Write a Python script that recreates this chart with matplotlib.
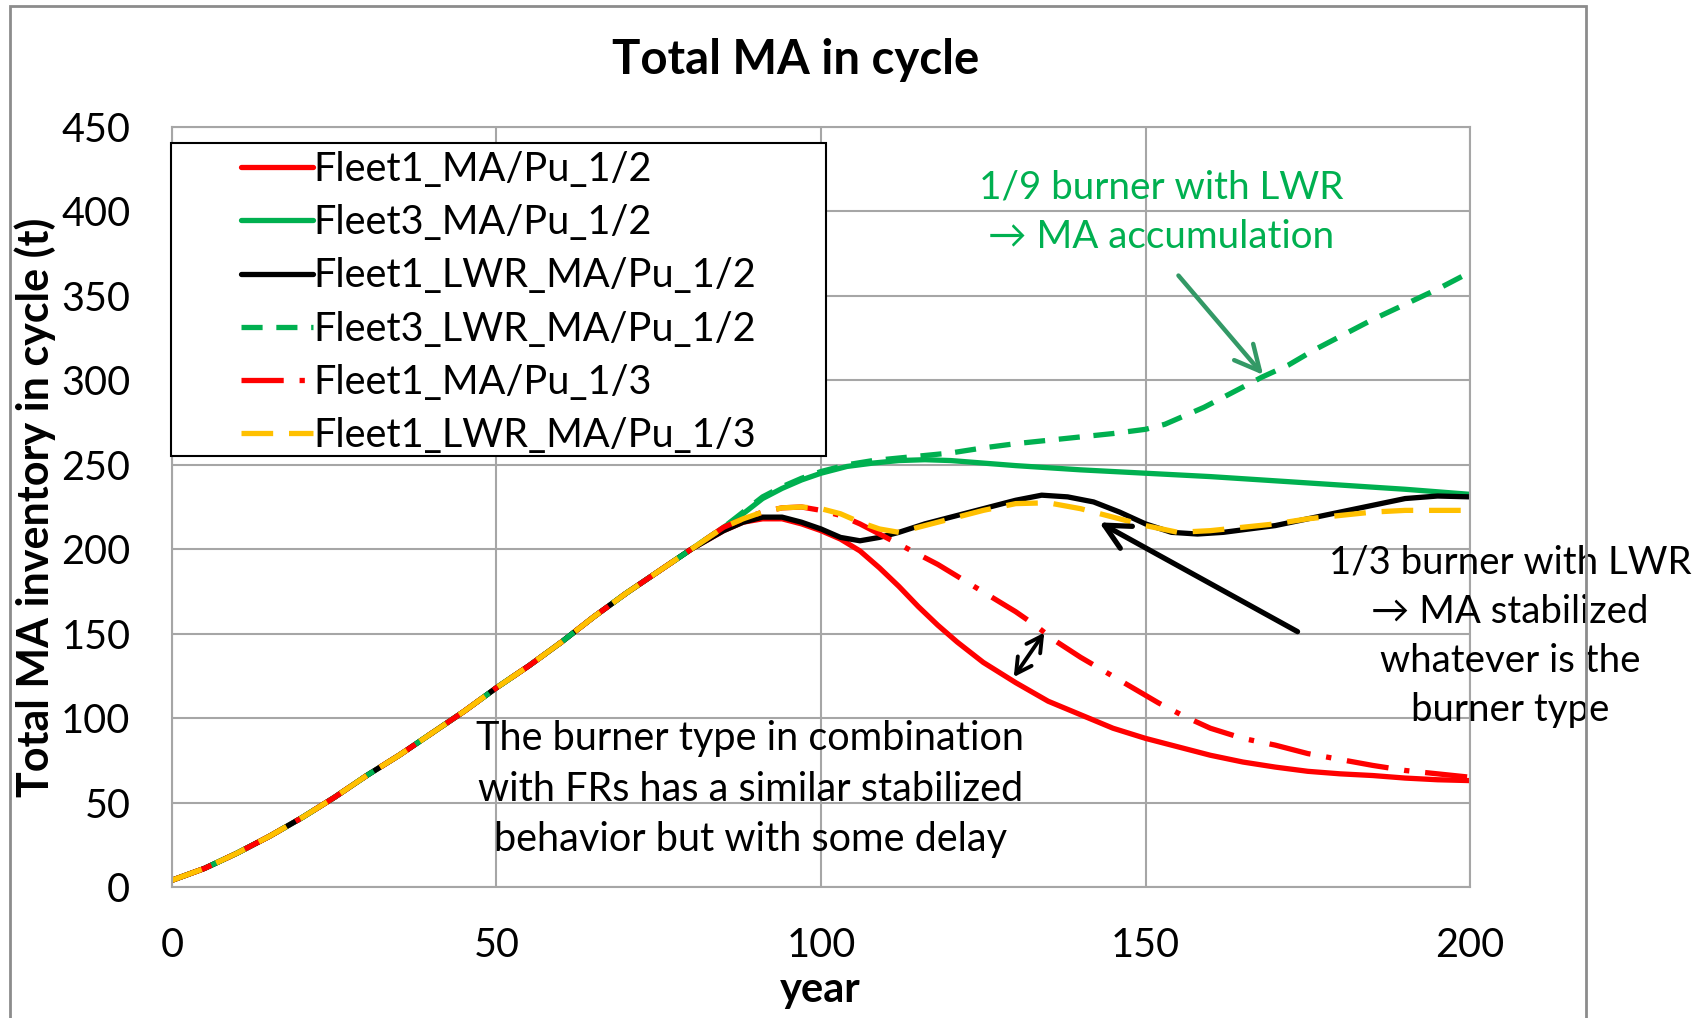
import numpy as np
import matplotlib
matplotlib.use("Agg")
import matplotlib.pyplot as plt
from matplotlib.patches import Rectangle

plt.rcParams['font.family'] = ['Lato', 'DejaVu Sans']

# common part of all scenarios (years 0..80)
base_years = [0, 5, 10, 15, 20, 25, 30, 35, 40, 45, 50, 55, 60, 65, 70, 75, 80]
base_ma = [4, 11, 20, 30, 41, 53, 66, 78, 91, 104, 118, 131, 145, 160, 174, 187, 200]

# Fleet1_MA/Pu_1/2
f1_12_years = [85, 88, 91, 94, 97, 100, 103, 106, 109, 112, 115, 118, 121, 125, 130, 135,
               140, 145, 150, 155, 160, 165, 170, 175, 180, 185, 190, 195, 200]
f1_12_ma = [211, 216, 218, 218, 215, 211, 206, 199, 189, 178, 166, 155, 145, 133, 121, 110,
            102, 94, 88, 83, 78, 74, 71, 68.5, 67, 66, 64.5, 63.5, 63]

# Fleet3_MA/Pu_1/2
f3_12_years = [85, 88, 91, 94, 97, 100, 104, 108, 112, 116, 120, 125, 130, 140, 150, 160,
               170, 180, 190, 200]
f3_12_ma = [213, 221, 230, 236, 241, 245, 249, 251, 252.5, 253, 252.5, 251, 249.5, 247,
            245, 243, 240.5, 238, 235.5, 232.5]

# Fleet1_LWR_MA/Pu_1/2
f1lwr_12_years = [85, 88, 91, 94, 97, 100, 103, 106, 109, 112, 116, 120, 125, 130, 134, 138,
                  142, 146, 150, 154, 158, 162, 166, 170, 175, 180, 185, 190, 195, 200]
f1lwr_12_ma = [211, 216, 219, 219, 216, 212, 207, 205, 207, 210, 215, 219, 224, 229, 232, 231,
               228, 222, 215, 210, 209, 210, 212, 214, 218, 222, 226, 230, 231.5, 231]

# Fleet3_LWR_MA/Pu_1/2
f3lwr_12_years = [85, 88, 91, 94, 97, 100, 104, 108, 112, 116, 120, 125, 130, 135, 140, 145,
                  150, 153, 156, 159, 162, 165, 168, 172, 176, 180, 185, 190, 195, 200]
f3lwr_12_ma = [213, 222, 231, 237, 242, 246, 250, 252.5, 254, 255.5, 257, 260, 262.5, 264.5,
               266.5, 268.5, 271, 274, 279, 284, 290, 296, 302, 309, 318, 326, 336, 345, 354, 364]

# Fleet1_MA/Pu_1/3
f1_13_years = [85, 88, 91, 94, 97, 100, 103, 106, 109, 112, 115, 118, 121, 124, 127, 130, 133,
               136, 140, 144, 148, 152, 156, 160, 165, 170, 175, 180, 185, 190, 195, 200]
f1_13_ma = [213, 218, 222, 224.5, 225, 223, 220, 215, 209, 203, 197, 191, 184, 177, 170, 163,
            155, 146, 136, 127, 118, 109, 101, 94, 88, 84, 79, 75.5, 72, 69, 67, 65]

# Fleet1_LWR_MA/Pu_1/3
f1lwr_13_years = [85, 88, 91, 94, 97, 100, 103, 106, 109, 112, 115, 120, 125, 130, 135, 140,
                  145, 150, 155, 160, 165, 170, 175, 180, 185, 190, 195, 200]
f1lwr_13_ma = [213, 218, 222, 224.5, 225, 224, 221, 216, 212, 210, 213, 218, 223, 227, 227.5,
               224, 219, 214, 210, 211, 213, 215, 218, 220, 222, 223, 223, 223]

series = [
    ("Fleet1_MA/Pu_1/2", f1_12_years, f1_12_ma, "#FF0000", None),
    ("Fleet3_MA/Pu_1/2", f3_12_years, f3_12_ma, "#00B050", None),
    ("Fleet1_LWR_MA/Pu_1/2", f1lwr_12_years, f1lwr_12_ma, "#000000", None),
    ("Fleet3_LWR_MA/Pu_1/2", f3lwr_12_years, f3lwr_12_ma, "#00B050", (4, 2.6)),
    ("Fleet1_MA/Pu_1/3", f1_13_years, f1_13_ma, "#FF0000", (8, 3, 1, 3)),
    ("Fleet1_LWR_MA/Pu_1/3", f1lwr_13_years, f1lwr_13_ma, "#FFC000", (6, 3)),
]

W, H = 1703, 1018
fig = plt.figure(figsize=(W / 100, H / 100), dpi=100)
ax = fig.add_axes([172 / W, 1 - 887 / H, (1470 - 172) / W, (887 - 127) / H])

handles = []
for label, yrs, ma, col, dash in series:
    x = np.array(base_years + yrs)
    y = np.array(base_ma + ma)
    ln, = ax.plot(x, y, color=col, lw=3.8, label=label, solid_capstyle='round')
    if dash is not None:
        ln.set_dashes(dash)
        ln.set_dash_capstyle('butt')
    handles.append(ln)

ax.set_xlim(0, 200)
ax.set_ylim(0, 450)
ax.set_xticks([0, 50, 100, 150, 200])
ax.set_yticks(np.arange(0, 451, 50))
ax.grid(True, color='#A6A6A6', lw=1.5)
ax.set_axisbelow(True)
for s in ax.spines.values():
    s.set_color('#A6A6A6')
    s.set_linewidth(1.5)
ax.tick_params(axis='both', length=0, labelsize=28.5)
ax.tick_params(axis='y', pad=30)
ax.tick_params(axis='x', pad=29)

# outer chart border
fig.patches.append(Rectangle((10 / W, -0.05), (1586 - 10) / W, 1.05 - 6 / H,
                             transform=fig.transFigure, fill=False,
                             edgecolor='#8C8C8C', lw=2, zorder=0))

fig.text(796 / W, 1 - 60 / H, "Total MA in cycle", ha='center', va='center',
         fontsize=34, fontweight='bold')
fig.text(35 / W, 1 - 507 / H, "Total MA inventory in cycle (t)", ha='center', va='center',
         rotation=90, fontsize=31, fontweight='bold')
fig.text(820 / W, 1 - 990 / H, "year", ha='center', va='center',
         fontsize=30, fontweight='bold')

# legend with a plain black frame
fig.patches.append(Rectangle((170.5 / W, 1 - 456 / H), 655 / W, 312.6 / H,
                             transform=fig.transFigure, facecolor='white',
                             edgecolor='black', lw=1.5, zorder=1))
leg = fig.legend(handles=handles, loc='upper left',
                 bbox_to_anchor=(241 / W, 1 - 151 / H), bbox_transform=fig.transFigure,
                 frameon=False, fontsize=28.5, handlelength=1.82, handletextpad=0.0,
                 labelspacing=0.41, borderpad=0, borderaxespad=0)
leg.set_zorder(2)

# annotations
ax.text(152.4, 399.4, "1/9 burner with LWR\n\u2192 MA accumulation", color='#00B050',
        ha='center', va='center', fontsize=27.8, linespacing=1.45)
ax.annotate("", xy=(168.4, 302), xytext=(154.8, 363.3),
            arrowprops=dict(arrowstyle='->,head_length=0.6,head_width=0.3',
                            color='#339966', lw=3.2, mutation_scale=30))

ax.text(206.2, 148.6, "1/3 burner with LWR\n\u2192 MA stabilized\nwhatever is the\nburner type",
        ha='center', va='center', fontsize=27.6, linespacing=1.45, clip_on=False)
ax.annotate("", xy=(142.5, 216.7), xytext=(173.8, 150.4),
            arrowprops=dict(arrowstyle='->,head_length=0.6,head_width=0.3',
                            color='black', lw=3.8, mutation_scale=30))

ax.annotate("", xy=(129.7, 124.3), xytext=(134.4, 150.6),
            arrowprops=dict(arrowstyle='<->,head_length=0.55,head_width=0.3',
                            color='black', lw=2.8, mutation_scale=20,
                            shrinkA=0, shrinkB=0))

ax.text(89.1, 58, "The burner type in combination\nwith FRs has a similar stabilized\nbehavior but with some delay",
        ha='center', va='center', fontsize=28.5, linespacing=1.45)

fig.savefig("out.png", dpi=100)
